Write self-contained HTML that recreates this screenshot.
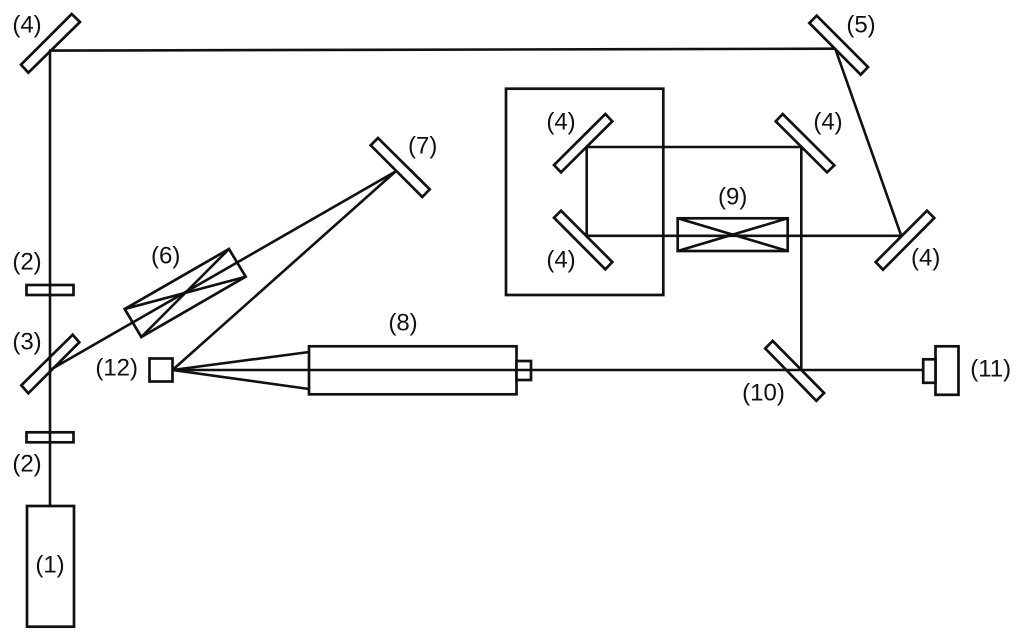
<!DOCTYPE html>
<html>
<head>
<meta charset="utf-8">
<style>
html,body{margin:0;padding:0;background:#fff;width:1024px;height:641px;overflow:hidden}
svg{display:block}
text{font-family:"Liberation Sans",sans-serif;font-size:24px;fill:#111;text-anchor:middle}
.s{fill:#fff;stroke:#111;stroke-width:2.7;stroke-linejoin:miter}
.n{fill:none;stroke:#111;stroke-width:2.7}
.l{fill:none;stroke:#111;stroke-width:2.6;stroke-linecap:butt}
</style>
</head>
<body>
<svg width="1024" height="641" viewBox="0 0 1024 641" xmlns="http://www.w3.org/2000/svg">
<rect width="1024" height="641" fill="#fff"/>
<!-- enclosure -->
<rect class="n" x="506" y="88.7" width="157.3" height="206.3"/>
<!-- mirrors -->
<polygon class="s" points="71.7,14 80,22 28.3,72.7 21,64.7"/>
<polygon class="s" points="816.7,15.7 809.3,23 860.7,74.7 868,67"/>
<polygon class="s" points="605.3,114 612.3,121.3 561,172.3 554,165"/>
<polygon class="s" points="782.7,114 775.7,121.3 827,172.3 834.3,165.3"/>
<polygon class="s" points="561,210.7 554,217.7 605.3,269.3 612.3,262"/>
<polygon class="s" points="927,210.7 934.3,218 883,269.7 875.7,262"/>
<polygon class="s" points="378,138 370.7,145.3 422.3,197 429.7,189.3"/>
<polygon class="s" points="72.7,334.7 79.3,342.3 28.3,393.3 21.3,385.3"/>
<polygon class="s" points="772.7,340.9 765.2,348.4 816.3,400.8 824.1,393"/>
<!-- plates -->
<rect class="s" x="26.5" y="285" width="47" height="10"/>
<rect class="s" x="26.5" y="432.3" width="47" height="10"/>
<!-- source -->
<rect class="s" x="27" y="506" width="47" height="120.7"/>
<!-- (6) -->
<polygon class="s" points="229,249 245.7,276.7 141.3,337 124.7,309"/>
<!-- (8) -->
<rect class="s" x="309" y="346.3" width="207.5" height="48"/>
<rect class="s" x="516.5" y="361" width="14.5" height="19"/>
<!-- (9) -->
<rect class="s" x="677.7" y="218.3" width="110" height="32.7"/>
<!-- (11) -->
<rect class="s" x="935.5" y="346.3" width="23" height="48.5"/>
<rect class="s" x="923.2" y="359.3" width="12.3" height="23.5"/>
<!-- (12) -->
<rect class="s" x="149.5" y="358.5" width="23" height="23"/>
<!-- beams -->
<line class="l" x1="50" y1="50" x2="50" y2="506"/>
<line class="l" x1="49" y1="50.6" x2="835" y2="48.7"/>
<line class="l" x1="835" y1="48" x2="901.5" y2="236.5"/>
<line class="l" x1="901" y1="235.8" x2="585.5" y2="235.8"/>
<line class="l" x1="586.7" y1="237" x2="586.7" y2="146"/>
<line class="l" x1="585.5" y1="147" x2="802.5" y2="147"/>
<line class="l" x1="801.3" y1="146" x2="801.3" y2="370"/>
<line class="l" x1="172.5" y1="370" x2="923" y2="370"/>
<line class="l" x1="50" y1="370" x2="395.5" y2="171.5"/>
<line class="l" x1="172.5" y1="370" x2="395.5" y2="171.5"/>
<line class="l" x1="172.5" y1="370" x2="309" y2="352"/>
<line class="l" x1="172.5" y1="370" x2="309" y2="389"/>
<!-- crossings -->
<line class="l" x1="229" y1="249" x2="141.3" y2="337"/>
<line class="l" x1="245.7" y1="276.7" x2="124.7" y2="309"/>
<line class="l" x1="677.7" y1="218.3" x2="787.7" y2="251"/>
<line class="l" x1="787.7" y1="218.3" x2="677.7" y2="251"/>
<!-- labels -->
<text x="27" y="32.3">(4)</text>
<text x="861" y="32.3">(5)</text>
<text x="561" y="129.3">(4)</text>
<text x="828" y="129.3">(4)</text>
<text x="561" y="267.3">(4)</text>
<text x="732.7" y="204.3">(9)</text>
<text x="422.7" y="153.3">(7)</text>
<text x="925.7" y="265.3">(4)</text>
<text x="165.7" y="263.3">(6)</text>
<text x="27" y="269.3">(2)</text>
<text x="27" y="349.3">(3)</text>
<text x="116.7" y="375.3">(12)</text>
<text x="27" y="471.3">(2)</text>
<text x="50" y="572.3">(1)</text>
<text x="403" y="330.3">(8)</text>
<text x="763.5" y="400.3">(10)</text>
<text x="990.7" y="376.3">(11)</text>
</svg>
</body>
</html>
